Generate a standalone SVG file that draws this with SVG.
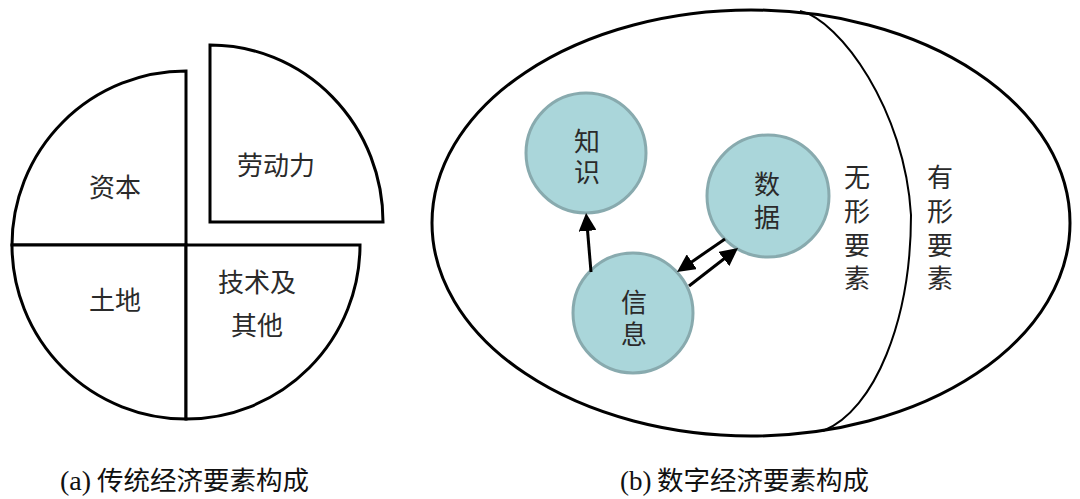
<svg xmlns="http://www.w3.org/2000/svg" width="1080" height="499" viewBox="0 0 1080 499">
<style>
.q{fill:#fff;stroke:#000;stroke-width:3;stroke-linejoin:miter}
.lbl{font-family:"Noto Sans CJK SC","Noto Sans",sans-serif;font-size:26px;fill:#2a2a2a;text-anchor:middle;dominant-baseline:central}
.node{fill:#aad6da;stroke:#88aaae;stroke-width:3}
.cap{font-family:"Liberation Serif","Noto Sans CJK SC",serif;font-size:26.5px;fill:#111}
.arr{stroke:#000;stroke-width:3;fill:none;marker-end:url(#ah)}
</style>
<defs>
<marker id="ah" markerUnits="userSpaceOnUse" viewBox="0 0 18 18" markerWidth="18" markerHeight="18" refX="2" refY="9" orient="auto">
<path d="M0,0 L18,9 L0,18 z" fill="#000"/>
</marker>
</defs>
<rect width="1080" height="499" fill="#fff"/>

<g id="traditional">
<g id="capital">
<path class="q" d="M186,245 L12,245 A174,174 0 0 1 186,71 Z"/>
<text class="lbl" x="115" y="185">资本</text>
</g>
<g id="labor">
<path class="q" d="M210,222 L210,45 A173,177 0 0 1 383,222 Z"/>
<text class="lbl" x="276" y="163">劳动力</text>
</g>
<g id="land">
<path class="q" d="M186,245 L12,245 A174,174 0 0 0 186,419 Z"/>
<text class="lbl" x="115" y="298">土地</text>
</g>
<g id="tech">
<path class="q" d="M186,245 L360,245 A174,174 0 0 1 186,419 Z"/>
<text class="lbl" x="257" y="280"><tspan x="257" y="280">技术及</tspan><tspan x="257" y="323">其他</tspan></text>
</g>
</g>

<g id="digital">
<g id="outer">
<ellipse cx="751" cy="223" rx="319" ry="213" fill="#fff" stroke="#000" stroke-width="3"/>
<path d="M800,11 C840,20 905,110 911,215 C911,320 875,410 823,431" fill="none" stroke="#000" stroke-width="2"/>
</g>
<g id="intangible">
<text class="lbl"><tspan x="857" y="175">无</tspan><tspan x="857" y="209">形</tspan><tspan x="857" y="243">要</tspan><tspan x="857" y="276">素</tspan></text>
</g>
<g id="tangible">
<text class="lbl"><tspan x="940" y="175">有</tspan><tspan x="940" y="209">形</tspan><tspan x="940" y="243">要</tspan><tspan x="940" y="276">素</tspan></text>
</g>
<g id="knowledge">
<circle class="node" cx="586" cy="153" r="60"/>
<text class="lbl"><tspan x="587" y="139">知</tspan><tspan x="587" y="170">识</tspan></text>
</g>
<g id="data">
<circle class="node" cx="768" cy="196" r="61"/>
<text class="lbl"><tspan x="767" y="182">数</tspan><tspan x="767" y="215">据</tspan></text>
</g>
<g id="information">
<circle class="node" cx="633" cy="313" r="60"/>
<text class="lbl"><tspan x="634" y="300">信</tspan><tspan x="634" y="332">息</tspan></text>
</g>
</g>

<g id="connectors">
<line class="arr" x1="591" y1="272" x2="587.4" y2="228.9"/>
<line class="arr" x1="725" y1="239" x2="690.2" y2="262.9"/>
<line class="arr" x1="689" y1="286" x2="725.4" y2="257.8"/>
</g>

<g id="captions">
<text class="cap" y="490"><tspan x="60" font-size="28">(a)</tspan><tspan x="97">传统经济要素构成</tspan></text>
<text class="cap" y="490"><tspan x="620" font-size="27">(b)</tspan><tspan x="657">数字经济要素构成</tspan></text>
</g>
</svg>
